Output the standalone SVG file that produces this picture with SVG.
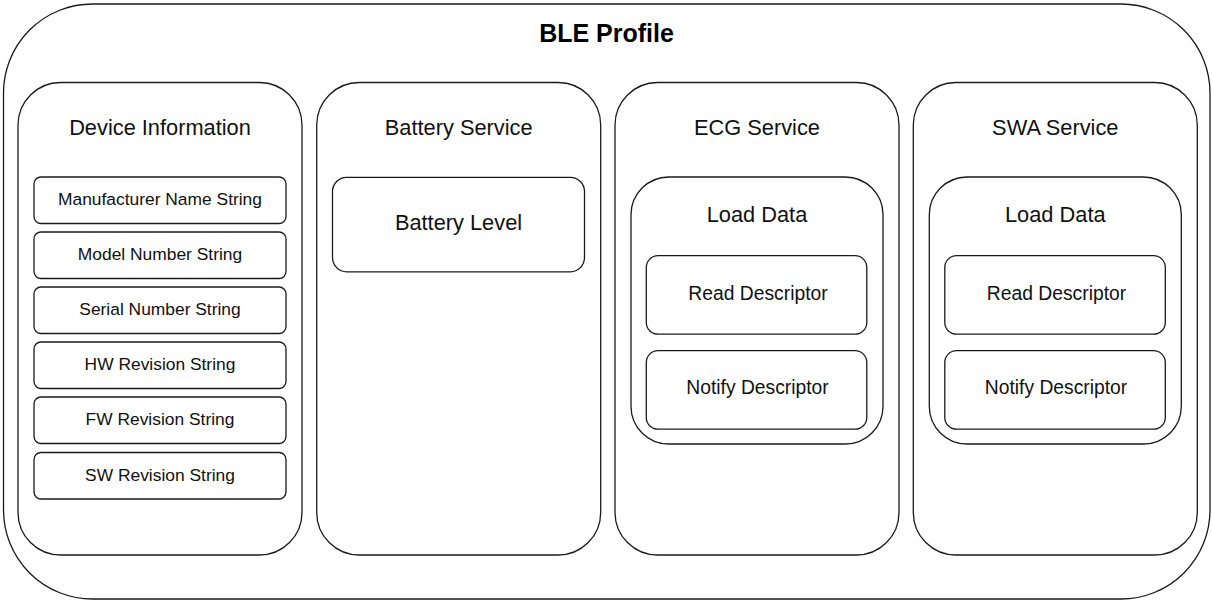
<svg xmlns="http://www.w3.org/2000/svg" width="1212" height="601" viewBox="0 0 1212 601">
  <style>
    .box { fill: #ffffff; stroke: #1a1a1a; stroke-width: 1.3; }
    .title { font-family: "Liberation Sans", Arial, sans-serif; font-size: 25px; font-weight: bold; fill: #000000; text-anchor: middle; }
    .head { font-family: "Liberation Sans", Arial, sans-serif; font-size: 21.8px; fill: #111111; text-anchor: middle; }
    .item { font-family: "Liberation Sans", Arial, sans-serif; font-size: 17.4px; fill: #111111; text-anchor: middle; }
    .desc { font-family: "Liberation Sans", Arial, sans-serif; font-size: 19.3px; fill: #111111; text-anchor: middle; }
  </style>

  <!-- Profile container -->
  <g id="ble-profile">
    <rect class="box" x="3.5" y="4" width="1206.5" height="595" rx="89" ry="89"/>
    <text class="title" x="606.5" y="42">BLE Profile</text>
  </g>

  <!-- Device Information service -->
  <g id="device-information">
    <rect class="box" x="18" y="82.5" width="284" height="472.5" rx="42.6" ry="42.6"/>
    <text class="head" x="160" y="135">Device Information</text>
  </g>
  <g id="manufacturer-name">
    <rect class="box" x="34" y="177" width="252" height="46.5" rx="7" ry="7"/>
    <text class="item" x="160" y="205">Manufacturer Name String</text>
  </g>
  <g id="model-number">
    <rect class="box" x="34" y="232" width="252" height="46.5" rx="7" ry="7"/>
    <text class="item" x="160" y="260">Model Number String</text>
  </g>
  <g id="serial-number">
    <rect class="box" x="34" y="287" width="252" height="46.5" rx="7" ry="7"/>
    <text class="item" x="160" y="315">Serial Number String</text>
  </g>
  <g id="hw-revision">
    <rect class="box" x="34" y="342" width="252" height="46.5" rx="7" ry="7"/>
    <text class="item" x="160" y="370">HW Revision String</text>
  </g>
  <g id="fw-revision">
    <rect class="box" x="34" y="397" width="252" height="46.5" rx="7" ry="7"/>
    <text class="item" x="160" y="425">FW Revision String</text>
  </g>
  <g id="sw-revision">
    <rect class="box" x="34" y="452.5" width="252" height="46.5" rx="7" ry="7"/>
    <text class="item" x="160" y="480.5">SW Revision String</text>
  </g>

  <!-- Battery service -->
  <g id="battery-service">
    <rect class="box" x="316.7" y="82.5" width="284" height="472.5" rx="42.6" ry="42.6"/>
    <text class="head" x="458.7" y="135">Battery Service</text>
  </g>
  <g id="battery-level">
    <rect class="box" x="332.5" y="177.3" width="252" height="94.5" rx="14.2" ry="14.2"/>
    <text class="head" x="458.5" y="229.5">Battery Level</text>
  </g>

  <!-- ECG service -->
  <g id="ecg-service">
    <rect class="box" x="615" y="82.5" width="284" height="472.5" rx="42.6" ry="42.6"/>
    <text class="head" x="757" y="135">ECG Service</text>
  </g>
  <g id="ecg-load-data">
    <rect class="box" x="631" y="177" width="252" height="267" rx="37.8" ry="37.8"/>
    <text class="head" x="757" y="221.7">Load Data</text>
  </g>
  <g id="ecg-read-descriptor">
    <rect class="box" x="646.3" y="255.7" width="220.5" height="78.5" rx="11.8" ry="11.8"/>
    <text class="desc" x="758" y="299.5">Read Descriptor</text>
  </g>
  <g id="ecg-notify-descriptor">
    <rect class="box" x="646.3" y="350.7" width="220.5" height="78.5" rx="11.8" ry="11.8"/>
    <text class="desc" x="757.5" y="393.7">Notify Descriptor</text>
  </g>

  <!-- SWA service -->
  <g id="swa-service">
    <rect class="box" x="913.3" y="82.5" width="284" height="472.5" rx="42.6" ry="42.6"/>
    <text class="head" x="1055.3" y="135">SWA Service</text>
  </g>
  <g id="swa-load-data">
    <rect class="box" x="929.3" y="177" width="252" height="267" rx="37.8" ry="37.8"/>
    <text class="head" x="1055.3" y="221.7">Load Data</text>
  </g>
  <g id="swa-read-descriptor">
    <rect class="box" x="944.8" y="255.7" width="220.5" height="78.5" rx="11.8" ry="11.8"/>
    <text class="desc" x="1056.5" y="299.5">Read Descriptor</text>
  </g>
  <g id="swa-notify-descriptor">
    <rect class="box" x="944.8" y="350.7" width="220.5" height="78.5" rx="11.8" ry="11.8"/>
    <text class="desc" x="1056" y="393.7">Notify Descriptor</text>
  </g>

  <!-- no connectors in this diagram -->
  <g id="connectors"/>
</svg>
